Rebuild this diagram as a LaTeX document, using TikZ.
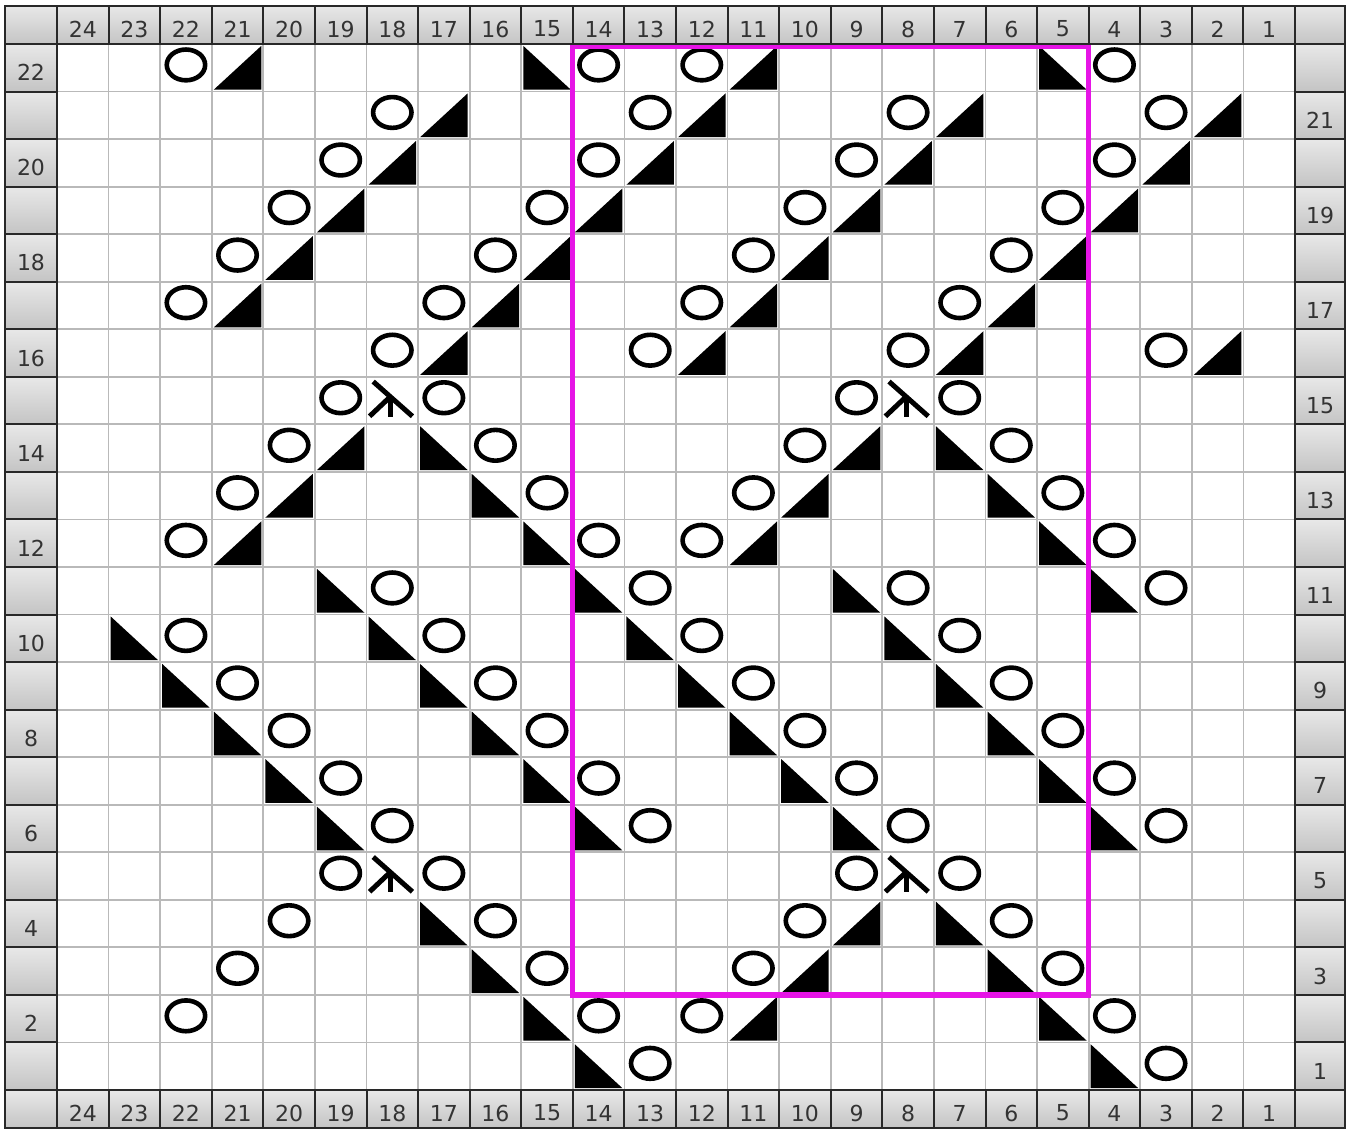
\documentclass[tikz,border=0pt]{standalone}
\usepackage{fontspec}
\setmainfont{DejaVu Sans}
\definecolor{hdrtxt}{RGB}{51,51,51}
\definecolor{hdrline}{RGB}{40,40,40}
\definecolor{gridc}{RGB}{185,185,185}
\definecolor{repframe}{RGB}{230,20,230}
\definecolor{hdrtop}{RGB}{232,232,232}
\definecolor{hdrbot}{RGB}{196,196,196}
\tikzset{
  hdrcell/.style={top color=hdrtop, bottom color=hdrbot, draw=hdrline, line width=1pt},
  hdrlabel/.style={text=hdrtxt, font=\fontsize{11}{11}\selectfont, inner sep=0pt},
  yosym/.style={draw=black, line width=2.3pt},
  decsym/.style={fill=black},
  cddsym/.style={draw=black, line width=2.5pt, line cap=butt},
  gridline/.style={draw=gridc, line width=0.9pt},
  repeatbox/.style={draw=repframe, line width=2.6pt},
}
\newcommand\symYO[2]{\draw[yosym] ({24.5-#1},{22.44-#2}) ellipse [x radius=9.6pt, y radius=7.7pt];}
\newcommand\symKT[2]{\fill[decsym] ({24.04-#1},{22.96-#2}) -- ({24.96-#1},{22.96-#2}) -- ({24.96-#1},{22.04-#2}) -- cycle;}
\newcommand\symSK[2]{\fill[decsym] ({24.04-#1},{22.04-#2}) -- ({24.04-#1},{22.96-#2}) -- ({24.96-#1},{22.96-#2}) -- cycle;}
\newcommand\symCDD[2]{%
  \draw[cddsym] ({24.13-#1},{22.10-#2}) -- ({24.89-#1},{22.83-#2});
  \draw[cddsym] ({24.46-#1},{22.42-#2}) -- ({24.06-#1},{22.83-#2});
  \draw[cddsym] ({24.46-#1},{22.42-#2}) -- ({24.46-#1},{22.84-#2});}
\begin{document}
\begin{tikzpicture}[x=0.5pt,y=-0.5pt]
\useasboundingbox (0,0) rectangle (1351,1130);
\fill[white] (0,0) rectangle (1351,1130);

% ---- chart body ----
\begin{scope}[shift={(57,44)}, x=25.7915pt, y=-23.7725pt]
  \foreach \i in {1,...,23} \draw[gridline] (\i,0) -- (\i,22);
  \foreach \j in {1,...,21} \draw[gridline] (0,\j) -- (24,\j);

  \foreach \c/\r in {22/22,14/22,12/22,4/22,
    18/21,13/21,8/21,3/21,
    19/20,14/20,9/20,4/20,
    20/19,15/19,10/19,5/19,
    21/18,16/18,11/18,6/18,
    22/17,17/17,12/17,7/17,
    18/16,13/16,8/16,3/16,
    19/15,17/15,9/15,7/15,
    20/14,16/14,10/14,6/14,
    21/13,15/13,11/13,5/13,
    22/12,14/12,12/12,4/12,
    18/11,13/11,8/11,3/11,
    22/10,17/10,12/10,7/10,
    21/9,16/9,11/9,6/9,
    20/8,15/8,10/8,5/8,
    19/7,14/7,9/7,4/7,
    18/6,13/6,8/6,3/6,
    19/5,17/5,9/5,7/5,
    20/4,16/4,10/4,6/4,
    21/3,15/3,11/3,5/3,
    22/2,14/2,12/2,4/2,
    13/1,3/1} \symYO{\c}{\r};

  \foreach \c/\r in {21/22,11/22,
    17/21,12/21,7/21,2/21,
    18/20,13/20,8/20,3/20,
    19/19,14/19,9/19,4/19,
    20/18,15/18,10/18,5/18,
    21/17,16/17,11/17,6/17,
    17/16,12/16,7/16,2/16,
    19/14,9/14,
    20/13,10/13,
    21/12,11/12,
    9/4,10/3,11/2} \symKT{\c}{\r};

  \foreach \c/\r in {15/22,5/22,
    17/14,7/14,
    16/13,6/13,
    15/12,5/12,
    19/11,14/11,9/11,4/11,
    23/10,18/10,13/10,8/10,
    22/9,17/9,12/9,7/9,
    21/8,16/8,11/8,6/8,
    20/7,15/7,10/7,5/7,
    19/6,14/6,9/6,4/6,
    17/4,7/4,
    16/3,6/3,
    15/2,5/2,
    14/1,4/1} \symSK{\c}{\r};

  \foreach \c/\r in {18/15,8/15,18/5,8/5} \symCDD{\c}{\r};

  \draw[repeatbox] (10,0.04) rectangle (20,20);
\end{scope}

% ---- header rows ----
\foreach \yt/\yb/\tag in {6/44/top,1090/1128/bot}{
  \path[hdrcell] (5,\yt) rectangle (57,\yb);
  \path[hdrcell] (1295,\yt) rectangle (1345,\yb);
  \foreach \c in {1,...,24}{
    \path[hdrcell] ({57+(24-\c)*51.583},\yt) rectangle ({57+(25-\c)*51.583},\yb);
    \node[hdrlabel] (\tag\c) at ({57+(24.5-\c)*51.583},{(\yt+\yb)/2+4}) {\c};
  }
}

% ---- header columns ----
\foreach \r in {1,...,22}{
  \path[hdrcell] (5,{44+(22-\r)*47.545}) rectangle (57,{44+(23-\r)*47.545});
  \path[hdrcell] (1295,{44+(22-\r)*47.545}) rectangle (1345,{44+(23-\r)*47.545});
  \ifodd\r
    \node[hdrlabel] (right\r) at (1320,{44+(22.5-\r)*47.545+5}) {\r};
  \else
    \node[hdrlabel] (left\r) at (31,{44+(22.5-\r)*47.545+5}) {\r};
  \fi
}
\end{tikzpicture}
\end{document}
